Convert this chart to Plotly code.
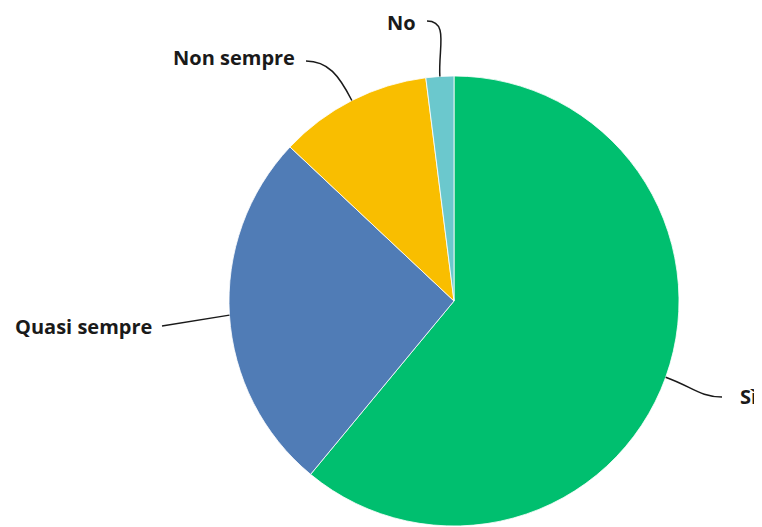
import math
import plotly.graph_objects as go

labels = ["Sì", "Quasi sempre", "Non sempre", "No"]
values = [61, 26, 11, 2]
colors = ["#00BF6F", "#507CB6", "#F9BE00", "#6BC8CD"]

# the page body has an 8px margin, so the figure sits at (8, 8) in the window
OFF = 8
W, H = 762 - OFF, 527 - OFF
CX, CY, R = 454, 301, 225  # pie centre / radius in window pixels

# end of leader line and text placement, in window pixels
label_pos = {
    "Sì": dict(end=(722, 397), tx=738, ty=396, anchor="left", straight=False),
    "Quasi sempre": dict(end=(162, 326), tx=154, ty=326, anchor="right", straight=True),
    "Non sempre": dict(end=(306, 61), tx=297, ty=58, anchor="right", straight=False),
    "No": dict(end=(427, 21), tx=418, ty=22, anchor="right", straight=False),
}

def px(x):
    return (x - OFF) / W

def py(y):
    return 1 - (y - OFF) / H

fig = go.Figure(go.Pie(
    labels=labels, values=values, sort=False, direction="clockwise", rotation=0,
    marker=dict(colors=colors, line=dict(color="white", width=0.8)),
    textinfo="none", hoverinfo="label+percent", showlegend=False,
    domain=dict(x=[max(0, px(CX - 300)), min(1, px(CX + 300))],
                y=[max(0, py(CY + R)), min(1, py(CY - R))]),
))

total = sum(values)
cum = 0
shapes = []
annotations = []
for lab, v in zip(labels, values):
    mid = (cum + v / 2) / total * 2 * math.pi
    cum += v
    dx, dy = math.sin(mid), -math.cos(mid)
    ax, ay = CX + R * dx, CY + R * dy
    info = label_pos[lab]
    ex, ey = info["end"]
    if info["straight"]:
        path = f"M {px(ax)} {py(ay)} L {px(ex)} {py(ey)}"
    else:
        c1x, c1y = ax + dx * 28, ay + dy * 28
        side = 1 if ex > CX else -1
        c2x, c2y = ex - side * 22, ey
        path = (f"M {px(ax)} {py(ay)} C {px(c1x)} {py(c1y)}, "
                f"{px(c2x)} {py(c2y)}, {px(ex)} {py(ey)}")
    shapes.append(dict(type="path", xref="paper", yref="paper", path=path,
                       line=dict(color="#1a1a1a", width=1.5)))
    annotations.append(dict(
        x=px(info["tx"]), y=py(info["ty"]), xref="paper", yref="paper",
        text=f"<b>{lab}</b>", showarrow=False, xanchor=info["anchor"], yanchor="middle",
        font=dict(family="Open Sans, Roboto, sans-serif", size=20, color="#1a1a1a"),
    ))

fig.update_layout(
    width=W, height=H, margin=dict(l=0, r=0, t=0, b=0),
    paper_bgcolor="white", plot_bgcolor="white",
    shapes=shapes, annotations=annotations,
)

fig.write_html("out.html")
